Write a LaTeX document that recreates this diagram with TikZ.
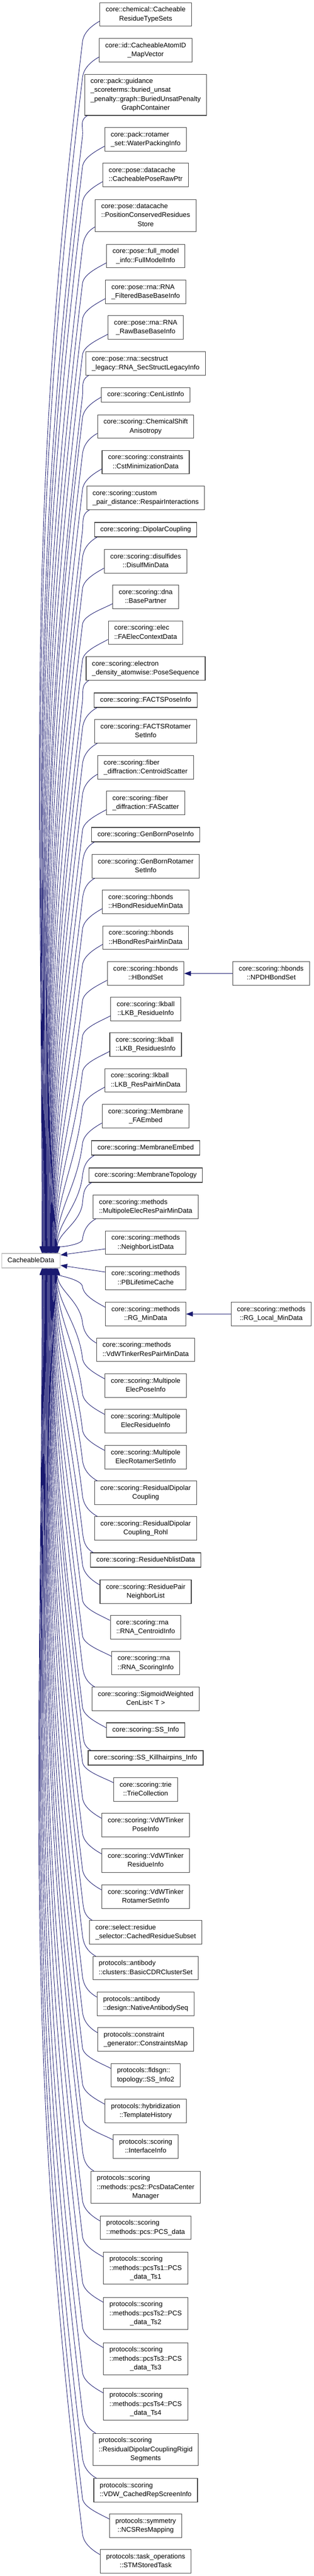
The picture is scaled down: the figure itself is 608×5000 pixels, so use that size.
\documentclass[tikz,border=0pt]{standalone}
\usepackage{fontspec}
\setmainfont{Liberation Sans}
\usetikzlibrary{arrows.meta,calc}
\definecolor{edgecol}{HTML}{191970}
\definecolor{nodeline}{HTML}{404040}
\definecolor{focusline}{HTML}{BFBFBF}
\newcommand\lbl[2]{\begin{tabular}{@{}l@{}}#1\multicolumn{1}{@{}c@{}}{#2}\end{tabular}}
\newcommand\upedge[3]{%
  \ifnum#3=1 \coordinate (tmpE) at ($(#1.south west)+(6pt,0pt)$);%
  \else \coordinate (tmpE) at ($(#1.south west)+(0pt,10pt)$);\fi
  \draw[back] let \p1=(tmpE), \p2=(cd.north), \n1={(\y1-\y2)/1pt-40} in
    (#2pt,\y2) .. controls (#2pt,{\y2+0.4*\n1*1pt}) and ({160pt-0.048*\n1*1pt},{\y1-40pt-0.4*\n1*1pt}) .. (160pt,{\y1-40pt})
    .. controls (162pt,{\y1-22pt}) and ({\x1-16pt},{\y1-9pt}) .. (\x1,\y1);}
\newcommand\downedge[3]{%
  \ifnum#3=1 \coordinate (tmpE) at ($(#1.north west)+(6pt,0pt)$);%
  \else \coordinate (tmpE) at ($(#1.north west)+(0pt,-10pt)$);\fi
  \draw[back] let \p1=(tmpE), \p2=(cd.south), \n1={(\y2-\y1)/1pt-40} in
    (#2pt,\y2) .. controls (#2pt,{\y2-0.4*\n1*1pt}) and ({160pt-0.048*\n1*1pt},{\y1+40pt+0.4*\n1*1pt}) .. (160pt,{\y1+40pt})
    .. controls (162pt,{\y1+22pt}) and ({\x1-16pt},{\y1+9pt}) .. (\x1,\y1);}
\tikzset{
  cls/.style={draw=nodeline, line width=1.1pt, fill=white, inner xsep=11.5pt, inner ysep=5.35pt,
    font=\fontsize{13.13pt}{17.3pt}\selectfont, anchor=center},
  focus/.style={cls, draw=focusline},
  edge/.style={draw=edgecol, line width=0.9pt},
  back/.style={edge, {Triangle[length=13pt,width=9.5pt]}-},
  fwd/.style={edge, -{Triangle[length=13pt,width=9.5pt]}}
}
\begin{document}
\begin{tikzpicture}
\useasboundingbox[fill=white] (0pt,0pt) rectangle (608pt,-5000pt);
\node[focus] (cd) at (60pt,-2447pt) {\lbl{}{CacheableData}};
\node[cls] (n1) at (282.5pt,-28pt) {\lbl{core::chemical::Cacheable\\}{ResidueTypeSets}};
\node[cls] (n2) at (282.5pt,-97.5pt) {\lbl{core::id::CacheableAtomID\\}{\_MapVector}};
\node[cls] (n3) at (282.5pt,-184pt) {\lbl{core::pack::guidance\\\_scoreterms::buried\_unsat\\\_penalty::graph::BuriedUnsatPenalty\\}{GraphContainer}};
\node[cls] (n4) at (282.5pt,-270.5pt) {\lbl{core::pack::rotamer\\}{\_set::WaterPackingInfo}};
\node[cls] (n5) at (282.5pt,-339.5pt) {\lbl{core::pose::datacache\\}{::CacheablePoseRawPtr}};
\node[cls] (n6) at (282.5pt,-418.5pt) {\lbl{core::pose::datacache\\::PositionConservedResidues\\}{Store}};
\node[cls] (n7) at (282.5pt,-497pt) {\lbl{core::pose::full\_model\\}{\_info::FullModelInfo}};
\node[cls] (n8) at (282.5pt,-566.5pt) {\lbl{core::pose::rna::RNA\\}{\_FilteredBaseBaseInfo}};
\node[cls] (n9) at (282.5pt,-635.5pt) {\lbl{core::pose::rna::RNA\\}{\_RawBaseBaseInfo}};
\node[cls] (n10) at (282.5pt,-705.5pt) {\lbl{core::pose::rna::secstruct\\}{\_legacy::RNA\_SecStructLegacyInfo}};
\node[cls] (n11) at (282.5pt,-766.5pt) {\lbl{}{core::scoring::CenListInfo}};
\node[cls] (n12) at (282.5pt,-828pt) {\lbl{core::scoring::ChemicalShift\\}{Anisotropy}};
\node[cls] (n13) at (282.5pt,-897pt) {\lbl{core::scoring::constraints\\}{::CstMinimizationData}};
\node[cls] (n14) at (282.5pt,-966.5pt) {\lbl{core::scoring::custom\\}{\_pair\_distance::RespairInteractions}};
\node[cls] (n15) at (282.5pt,-1028pt) {\lbl{}{core::scoring::DipolarCoupling}};
\node[cls] (n16) at (282.5pt,-1089.5pt) {\lbl{core::scoring::disulfides\\}{::DisulfMinData}};
\node[cls] (n17) at (282.5pt,-1158.5pt) {\lbl{core::scoring::dna\\}{::BasePartner}};
\node[cls] (n18) at (282.5pt,-1228pt) {\lbl{core::scoring::elec\\}{::FAElecContextData}};
\node[cls] (n19) at (282.5pt,-1297.5pt) {\lbl{core::scoring::electron\\}{\_density\_atomwise::PoseSequence}};
\node[cls] (n20) at (282.5pt,-1359pt) {\lbl{}{core::scoring::FACTSPoseInfo}};
\node[cls] (n21) at (282.5pt,-1419.5pt) {\lbl{core::scoring::FACTSRotamer\\}{SetInfo}};
\node[cls] (n22) at (282.5pt,-1489.5pt) {\lbl{core::scoring::fiber\\}{\_diffraction::CentroidScatter}};
\node[cls] (n23) at (282.5pt,-1558.5pt) {\lbl{core::scoring::fiber\\}{\_diffraction::FAScatter}};
\node[cls] (n24) at (282.5pt,-1620pt) {\lbl{}{core::scoring::GenBornPoseInfo}};
\node[cls] (n25) at (282.5pt,-1681.5pt) {\lbl{core::scoring::GenBornRotamer\\}{SetInfo}};
\node[cls] (n26) at (282.5pt,-1750.5pt) {\lbl{core::scoring::hbonds\\}{::HBondResidueMinData}};
\node[cls] (n27) at (282.5pt,-1820pt) {\lbl{core::scoring::hbonds\\}{::HBondResPairMinData}};
\node[cls] (n28) at (282.5pt,-1889.5pt) {\lbl{core::scoring::hbonds\\}{::HBondSet}};
\node[cls] (n29) at (282.5pt,-1958.5pt) {\lbl{core::scoring::lkball\\}{::LKB\_ResidueInfo}};
\node[cls] (n30) at (282.5pt,-2027.5pt) {\lbl{core::scoring::lkball\\}{::LKB\_ResiduesInfo}};
\node[cls] (n31) at (282.5pt,-2097pt) {\lbl{core::scoring::lkball\\}{::LKB\_ResPairMinData}};
\node[cls] (n32) at (282.5pt,-2166.5pt) {\lbl{core::scoring::Membrane\\}{\_FAEmbed}};
\node[cls] (n33) at (282.5pt,-2228pt) {\lbl{}{core::scoring::MembraneEmbed}};
\node[cls] (n34) at (282.5pt,-2281pt) {\lbl{}{core::scoring::MembraneTopology}};
\node[cls] (n35) at (282.5pt,-2342.5pt) {\lbl{core::scoring::methods\\}{::MultipoleElecResPairMinData}};
\node[cls] (n36) at (282.5pt,-2412pt) {\lbl{core::scoring::methods\\}{::NeighborListData}};
\node[cls] (n37) at (282.5pt,-2481pt) {\lbl{core::scoring::methods\\}{::PBLifetimeCache}};
\node[cls] (n38) at (282.5pt,-2550.5pt) {\lbl{core::scoring::methods\\}{::RG\_MinData}};
\node[cls] (n39) at (282.5pt,-2620pt) {\lbl{core::scoring::methods\\}{::VdWTinkerResPairMinData}};
\node[cls] (n40) at (282.5pt,-2689.5pt) {\lbl{core::scoring::Multipole\\}{ElecPoseInfo}};
\node[cls] (n41) at (282.5pt,-2758.5pt) {\lbl{core::scoring::Multipole\\}{ElecResidueInfo}};
\node[cls] (n42) at (282.5pt,-2828.5pt) {\lbl{core::scoring::Multipole\\}{ElecRotamerSetInfo}};
\node[cls] (n43) at (282.5pt,-2897.5pt) {\lbl{core::scoring::ResidualDipolar\\}{Coupling}};
\node[cls] (n44) at (282.5pt,-2966.5pt) {\lbl{core::scoring::ResidualDipolar\\}{Coupling\_Rohl}};
\node[cls] (n45) at (282.5pt,-3028pt) {\lbl{}{core::scoring::ResidueNblistData}};
\node[cls] (n46) at (282.5pt,-3089.5pt) {\lbl{core::scoring::ResiduePair\\}{NeighborList}};
\node[cls] (n47) at (282.5pt,-3158.5pt) {\lbl{core::scoring::rna\\}{::RNA\_CentroidInfo}};
\node[cls] (n48) at (282.5pt,-3228pt) {\lbl{core::scoring::rna\\}{::RNA\_ScoringInfo}};
\node[cls] (n49) at (282.5pt,-3297.5pt) {\lbl{core::scoring::SigmoidWeighted\\}{CenList< T >}};
\node[cls] (n50) at (282.5pt,-3358pt) {\lbl{}{core::scoring::SS\_Info}};
\node[cls] (n51) at (282.5pt,-3412pt) {\lbl{}{core::scoring::SS\_Killhairpins\_Info}};
\node[cls] (n52) at (282.5pt,-3473.5pt) {\lbl{core::scoring::trie\\}{::TrieCollection}};
\node[cls] (n53) at (282.5pt,-3542.5pt) {\lbl{core::scoring::VdWTinker\\}{PoseInfo}};
\node[cls] (n54) at (282.5pt,-3611.5pt) {\lbl{core::scoring::VdWTinker\\}{ResidueInfo}};
\node[cls] (n55) at (282.5pt,-3681.5pt) {\lbl{core::scoring::VdWTinker\\}{RotamerSetInfo}};
\node[cls] (n56) at (282.5pt,-3750.5pt) {\lbl{core::select::residue\\}{\_selector::CachedResidueSubset}};
\node[cls] (n57) at (282.5pt,-3820pt) {\lbl{protocols::antibody\\}{::clusters::BasicCDRClusterSet}};
\node[cls] (n58) at (282.5pt,-3889.5pt) {\lbl{protocols::antibody\\}{::design::NativeAntibodySeq}};
\node[cls] (n59) at (282.5pt,-3958.5pt) {\lbl{protocols::constraint\\}{\_generator::ConstraintsMap}};
\node[cls] (n60) at (282.5pt,-4028pt) {\lbl{protocols::fldsgn::\\}{topology::SS\_Info2}};
\node[cls] (n61) at (282.5pt,-4097.5pt) {\lbl{protocols::hybridization\\}{::TemplateHistory}};
\node[cls] (n62) at (282.5pt,-4166.5pt) {\lbl{protocols::scoring\\}{::InterfaceInfo}};
\node[cls] (n63) at (282.5pt,-4245.5pt) {\lbl{protocols::scoring\\::methods::pcs2::PcsDataCenter\\}{Manager}};
\node[cls] (n64) at (282.5pt,-4324pt) {\lbl{protocols::scoring\\}{::methods::pcs::PCS\_data}};
\node[cls] (n65) at (282.5pt,-4402.5pt) {\lbl{protocols::scoring\\::methods::pcsTs1::PCS\\}{\_data\_Ts1}};
\node[cls] (n66) at (282.5pt,-4490.5pt) {\lbl{protocols::scoring\\::methods::pcsTs2::PCS\\}{\_data\_Ts2}};
\node[cls] (n67) at (282.5pt,-4578.5pt) {\lbl{protocols::scoring\\::methods::pcsTs3::PCS\\}{\_data\_Ts3}};
\node[cls] (n68) at (282.5pt,-4666.5pt) {\lbl{protocols::scoring\\::methods::pcsTs4::PCS\\}{\_data\_Ts4}};
\node[cls] (n69) at (282.5pt,-4754.5pt) {\lbl{protocols::scoring\\::ResidualDipolarCouplingRigid\\}{Segments}};
\node[cls] (n70) at (282.5pt,-4833.5pt) {\lbl{protocols::scoring\\}{::VDW\_CachedRepScreenInfo}};
\node[cls] (n71) at (282.5pt,-4902.5pt) {\lbl{protocols::symmetry\\}{::NCSResMapping}};
\node[cls] (n72) at (282.5pt,-4971.5pt) {\lbl{protocols::task\_operations\\}{::STMStoredTask}};
\node[cls] (npd) at (526pt,-1889.5pt) {\lbl{core::scoring::hbonds\\}{::NPDHBondSet}};
\node[cls] (rgl) at (526pt,-2550.5pt) {\lbl{core::scoring::methods\\}{::RG\_Local\_MinData}};
% edges from derived classes to CacheableData
\foreach \k/\w in {1/0,2/0,3/1,4/0,5/0,6/0,7/0,8/0,9/0,10/1,11/0,12/0,13/0,14/1,15/1,16/0,17/0,18/0,19/1,20/1,21/1,22/0,23/0,24/1,25/1,26/0,27/0,28/0,29/0,30/0,31/0,32/0,33/1,34/1,35/1}{
  \pgfmathsetmacro\edgesx{112-(35-\k)*0.9}
  \upedge{n\k}{\edgesx}{\w}
}
\foreach \k/\w in {38/0,39/0,40/0,41/0,42/0,43/1,44/1,45/1,46/0,47/0,48/0,49/1,50/0,51/1,52/0,53/0,54/0,55/0,56/1,57/1,58/0,59/0,60/0,61/0,62/0,63/1,64/0,65/0,66/0,67/0,68/0,69/1,70/1,71/0,72/0}{
  \pgfmathsetmacro\edgesx{112-(\k-38)*0.9}
  \downedge{n\k}{\edgesx}{\w}
}
\draw[back] ($(cd.east)+(0pt,11pt)$) -- ($(n36.west)+(0pt,-12pt)$);
\draw[back] ($(cd.east)+(0pt,-9pt)$) -- ($(n37.west)+(0pt,12pt)$);
\draw[fwd] (npd) -- (n28);
\draw[fwd] (rgl) -- (n38);
\end{tikzpicture}
\end{document}
